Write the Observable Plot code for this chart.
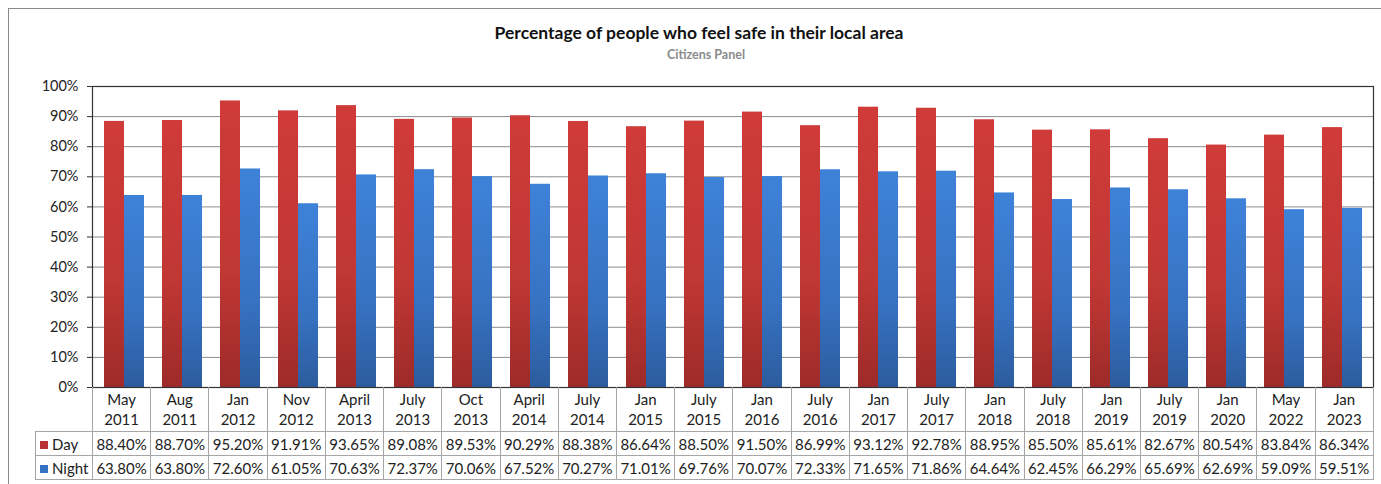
<!DOCTYPE html>
<html>
<head>
<meta charset="utf-8">
<script src="https://cdn.jsdelivr.net/npm/d3@7"></script>
<script src="https://cdn.jsdelivr.net/npm/@observablehq/plot@0.6"></script>
<style>
  html, body { margin: 0; padding: 0; background: #fff; }
  body { width: 1381px; height: 484px; overflow: hidden; font-family: Lato, "Liberation Sans", sans-serif; color: #222; }
  #wrap { position: relative; width: 1381px; height: 484px; }
  #frame { position: absolute; left: 8px; top: 8px; width: 1400px; height: 500px; border-left: 1px solid #8a8a8a; border-top: 1px solid #8a8a8a; }
  #title { position: absolute; left: 699px; top: 22px; transform: translateX(-50%); font-weight: bold; font-size: 17.5px; white-space: nowrap; color: #111; }
  #subtitle { position: absolute; left: 706px; top: 47px; transform: translateX(-50%); font-weight: bold; font-size: 12.5px; white-space: nowrap; color: #8a8a8a; }
  #chart { position: absolute; left: 0; top: 70px; }
  #tbl { position: absolute; left: 35px; top: 387px; border-collapse: collapse; table-layout: fixed; font-size: 15px; }
  #tbl td { border: 1px solid #a6a6a6; text-align: center; padding: 0; overflow: hidden; white-space: nowrap; color: #222; }
  #tbl tr.cat td { height: 44px; line-height: 20px; border-top: none; }
  #tbl tr.cat td.blank { border: none; border-right: 1px solid #a6a6a6; }
  #tbl tr.val td { height: 23px; }
  #tbl td.hdr { text-align: left; padding-left: 4px; }
  .sw { display: inline-block; width: 8px; height: 8px; margin-right: 4px; vertical-align: 1px; }
</style>
</head>
<body>
<div id="wrap">
  <div id="frame"></div>
  <div id="title">Percentage of people who feel safe in their local area</div>
  <div id="subtitle">Citizens Panel</div>
  <div id="chart"></div>
  <table id="tbl"></table>
</div>
<script>
const categories = ["May 2011","Aug 2011","Jan 2012","Nov 2012","April 2013","July 2013","Oct 2013","April 2014","July 2014","Jan 2015","July 2015","Jan 2016","July 2016","Jan 2017","July 2017","Jan 2018","July 2018","Jan 2019","July 2019","Jan 2020","May 2022","Jan 2023"];
const day = [88.40,88.70,95.20,91.91,93.65,89.08,89.53,90.29,88.38,86.64,88.50,91.50,86.99,93.12,92.78,88.95,85.50,85.61,82.67,80.54,83.84,86.34];
const night = [63.80,63.80,72.60,61.05,70.63,72.37,70.06,67.52,70.27,71.01,69.76,70.07,72.33,71.65,71.86,64.64,62.45,66.29,65.69,62.69,59.09,59.51];
const seriesNames = ["Day","Night"];
const yTicks = [0,10,20,30,40,50,60,70,80,90,100];

const dayRows = categories.map((c,i) => ({period:c, value:day[i]}));
const nightRows = categories.map((c,i) => ({period:c, value:night[i]}));

const W = 1381, mL = 92, mR = 8;
const step = (W - mL - mR) / categories.length;
const barW = 20;
const p = 1 - barW / step;

const chart = Plot.plot({
  width: W,
  height: 330,
  marginLeft: mL,
  marginRight: mR,
  marginTop: 16,
  marginBottom: 13,
  style: {fontFamily: "Lato, 'Liberation Sans', sans-serif", fontSize: "14.5px", color: "#222", background: "transparent"},
  x: {domain: categories, paddingInner: p, paddingOuter: p/2, axis: null},
  y: {domain: [0,100], ticks: yTicks, tickFormat: d => d + "%", label: null, tickSize: 5, tickPadding: 9},
  marks: [
    Plot.gridY(yTicks, {stroke: "#8c8c8c", strokeOpacity: 1}),
    Plot.barY(dayRows, {x: "period", y: "value", fill: "url(#gRed)", dx: -barW/2, inset: 0}),
    Plot.barY(nightRows, {x: "period", y: "value", fill: "url(#gBlue)", dx: barW/2, inset: 0}),
    Plot.frame({stroke: "#333", strokeWidth: 1.2}),
    Plot.axisY({ticks: yTicks, tickFormat: d => d + "%", tickSize: 5, tickPadding: 9, label: null, stroke: "#333"})
  ]
});

const ns = "http://www.w3.org/2000/svg";
const defs = document.createElementNS(ns, "defs");
defs.innerHTML = `
<linearGradient id="gRed" x1="0" y1="0" x2="0" y2="1">
  <stop offset="0" stop-color="#cf3b39"/><stop offset="0.6" stop-color="#c03734"/><stop offset="1" stop-color="#9d2b29"/>
</linearGradient>
<linearGradient id="gBlue" x1="0" y1="0" x2="0" y2="1">
  <stop offset="0" stop-color="#3e82d8"/><stop offset="0.6" stop-color="#3772c2"/><stop offset="1" stop-color="#2c5c9e"/>
</linearGradient>`;
chart.insertBefore(defs, chart.firstChild);
document.getElementById("chart").appendChild(chart);

// data table below the chart
const tbl = d3.select("#tbl");
const cg = tbl.append("colgroup");
cg.append("col").style("width", (mL - 35) + "px");
categories.forEach(() => cg.append("col").style("width", step + "px"));
tbl.style("width", (mL - 35 + step * categories.length) + "px");

const catRow = tbl.append("tr").attr("class", "cat");
catRow.append("td").attr("class", "blank");
categories.forEach(c => {
  const [m, y] = c.split(" ");
  catRow.append("td").html(m + "<br>" + y);
});
const swColors = {Day: "#b83432", Night: "#3572c4"};
[[seriesNames[0], day], [seriesNames[1], night]].forEach(([name, vals]) => {
  const tr = tbl.append("tr").attr("class", "val");
  const h = tr.append("td").attr("class", "hdr");
  h.append("span").attr("class", "sw").style("background", swColors[name]);
  h.append("span").text(name);
  vals.forEach(v => tr.append("td").text(v.toFixed(2) + "%"));
});
</script>
</body>
</html>
